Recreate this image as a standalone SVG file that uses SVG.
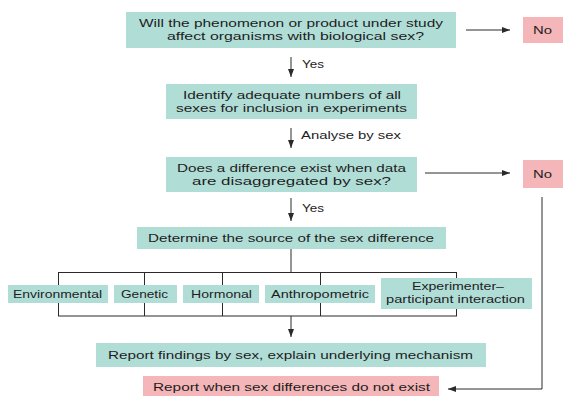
<svg xmlns="http://www.w3.org/2000/svg" width="563" height="396" viewBox="0 0 563 396">
<style>
.t{font-family:"Liberation Sans",Arial,sans-serif;font-size:11px;fill:#1e1e1e;}
.g{fill:#b1ddd7;}
.p{fill:#f4b6b8;}
.c{stroke:#2a2a2a;stroke-width:1;fill:none;}
</style>
<defs>
<marker id="ah" viewBox="0 0 8 6" refX="8" refY="3" markerWidth="8" markerHeight="6" markerUnits="userSpaceOnUse" orient="auto">
<path d="M0,0 L8,3 L0,6 Z" fill="#2a2a2a"/>
</marker>
</defs>
<rect width="563" height="396" fill="#ffffff"/>
<g id="connectors">
<path class="c" d="M466,30 H510" marker-end="url(#ah)"/>
<path class="c" d="M291,57 V77" marker-end="url(#ah)"/>
<path class="c" d="M291,128 V148" marker-end="url(#ah)"/>
<path class="c" d="M425,173 H510" marker-end="url(#ah)"/>
<path class="c" d="M291,198 V221" marker-end="url(#ah)"/>
<path class="c" d="M291,249 V272"/>
<rect class="c" x="58.5" y="272.5" width="398" height="43.5"/>
<path class="c" d="M144.5,272 V316 M222.5,272 V316 M320.5,272 V316"/>
<path class="c" d="M291,316 V337" marker-end="url(#ah)"/>
<path class="c" d="M542,197 V389 H448" marker-end="url(#ah)"/>
<text class="t" x="302" y="68" textLength="22" lengthAdjust="spacingAndGlyphs">Yes</text>
<text class="t" x="301" y="139" textLength="100" lengthAdjust="spacingAndGlyphs">Analyse by sex</text>
<text class="t" x="302" y="212" textLength="22" lengthAdjust="spacingAndGlyphs">Yes</text>
</g>
<g id="q1">
<rect class="g" x="126" y="12" width="330" height="36"/>
<text class="t" x="139" y="27" textLength="304" lengthAdjust="spacingAndGlyphs">Will the phenomenon or product under study</text>
<text class="t" x="167" y="39.5" textLength="257" lengthAdjust="spacingAndGlyphs">affect organisms with biological sex?</text>
</g>
<g id="no1">
<rect class="p" x="523" y="17" width="40" height="26"/>
<text class="t" x="533" y="34" textLength="19" lengthAdjust="spacingAndGlyphs">No</text>
</g>
<g id="identify">
<rect class="g" x="166" y="84" width="251" height="35"/>
<text class="t" x="183" y="99" textLength="218" lengthAdjust="spacingAndGlyphs">Identify adequate numbers of all</text>
<text class="t" x="176" y="111.5" textLength="231" lengthAdjust="spacingAndGlyphs">sexes for inclusion in experiments</text>
</g>
<g id="q2">
<rect class="g" x="166" y="157" width="251" height="35"/>
<text class="t" x="177" y="172" textLength="229" lengthAdjust="spacingAndGlyphs">Does a difference exist when data</text>
<text class="t" x="192" y="184.5" textLength="199" lengthAdjust="spacingAndGlyphs">are disaggregated by sex?</text>
</g>
<g id="no2">
<rect class="p" x="523" y="160" width="40" height="28"/>
<text class="t" x="533" y="177.5" textLength="19" lengthAdjust="spacingAndGlyphs">No</text>
</g>
<g id="determine">
<rect class="g" x="137" y="227" width="309" height="22"/>
<text class="t" x="148" y="242" textLength="286" lengthAdjust="spacingAndGlyphs">Determine the source of the sex difference</text>
</g>
<g id="environmental">
<rect class="g" x="8" y="285" width="100" height="18"/>
<text class="t" x="13" y="297.5" textLength="89" lengthAdjust="spacingAndGlyphs">Environmental</text>
</g>
<g id="genetic">
<rect class="g" x="114" y="285" width="63" height="18"/>
<text class="t" x="121" y="297.5" textLength="47" lengthAdjust="spacingAndGlyphs">Genetic</text>
</g>
<g id="hormonal">
<rect class="g" x="183" y="285" width="76" height="18"/>
<text class="t" x="191" y="297.5" textLength="61" lengthAdjust="spacingAndGlyphs">Hormonal</text>
</g>
<g id="anthropometric">
<rect class="g" x="265" y="285" width="110" height="18"/>
<text class="t" x="271" y="297.5" textLength="98" lengthAdjust="spacingAndGlyphs">Anthropometric</text>
</g>
<g id="experimenter">
<rect class="g" x="381" y="278" width="151" height="31"/>
<text class="t" x="412" y="290" textLength="92" lengthAdjust="spacingAndGlyphs">Experimenter–</text>
<text class="t" x="386" y="303" textLength="139" lengthAdjust="spacingAndGlyphs">participant interaction</text>
</g>
<g id="report">
<rect class="g" x="96" y="343" width="390" height="24"/>
<text class="t" x="108" y="359" textLength="365" lengthAdjust="spacingAndGlyphs">Report findings by sex, explain underlying mechanism</text>
</g>
<g id="report-none">
<rect class="p" x="143" y="376" width="296" height="20"/>
<text class="t" x="153" y="390.5" textLength="277" lengthAdjust="spacingAndGlyphs">Report when sex differences do not exist</text>
</g>
</svg>
